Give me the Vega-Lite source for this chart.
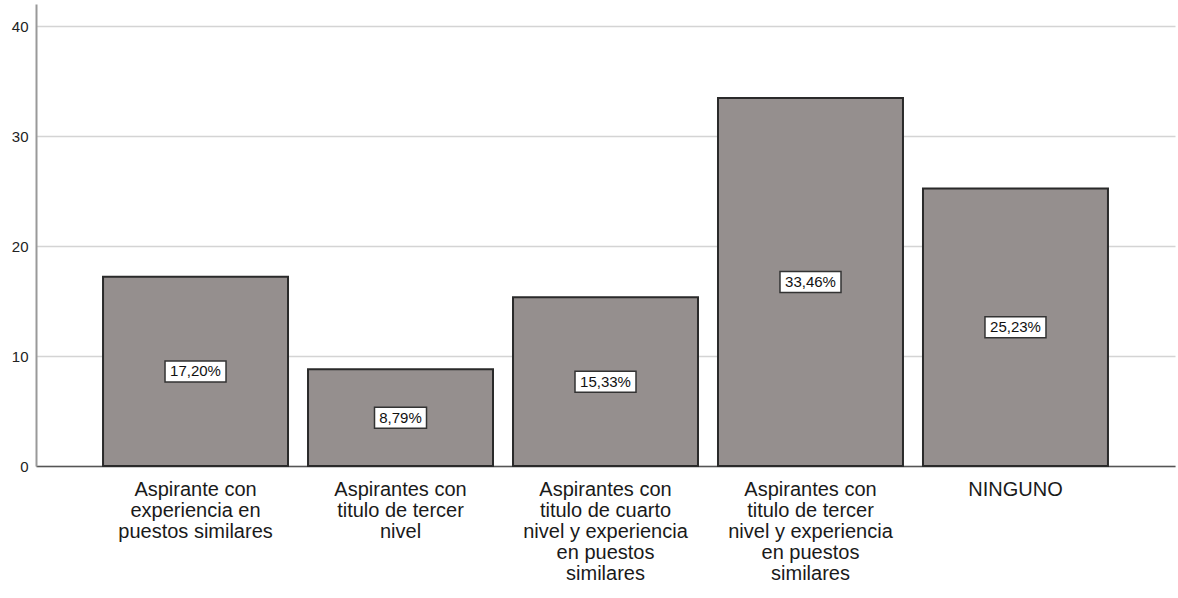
{
  "$schema": "https://vega.github.io/schema/vega-lite/v6.json",
  "width": 1139,
  "height": 462,
  "autosize": {"type": "none"},
  "padding": {"left": 36, "top": 4, "right": 3, "bottom": 132},
  "background": "white",
  "config": {
    "view": {"stroke": null},
    "font": "Liberation Sans"
  },
  "data": {
    "values": [
      {"categoria": "Aspirante con|experiencia en|puestos similares", "pct": 17.20, "etiqueta": "17,20%"},
      {"categoria": "Aspirantes con|titulo de tercer|nivel", "pct": 8.79, "etiqueta": "8,79%"},
      {"categoria": "Aspirantes con|titulo de cuarto|nivel y experiencia|en puestos|similares", "pct": 15.33, "etiqueta": "15,33%"},
      {"categoria": "Aspirantes con|titulo de tercer|nivel y experiencia|en puestos|similares", "pct": 33.46, "etiqueta": "33,46%"},
      {"categoria": "NINGUNO", "pct": 25.23, "etiqueta": "25,23%"}
    ]
  },
  "transform": [{"calculate": "datum.pct / 2", "as": "mitad"}],
  "encoding": {
    "x": {
      "field": "categoria",
      "type": "nominal",
      "sort": null,
      "scale": {"paddingInner": 0.0976, "paddingOuter": 0.327},
      "axis": {
        "title": null,
        "labelExpr": "split(datum.label, '|')",
        "labelAngle": 0,
        "labelFont": "Liberation Sans",
        "labelFontSize": 20,
        "labelLineHeight": 21,
        "labelColor": "#1a1a1a",
        "labelBaseline": "top",
        "labelPadding": 13,
        "labelLimit": 0,
        "ticks": false,
        "domainColor": "#555555",
        "domainWidth": 1.5,
        "grid": false
      }
    }
  },
  "layer": [
    {
      "mark": {"type": "bar", "fill": "#958f8e", "stroke": "#2a2a2a", "strokeWidth": 2},
      "encoding": {
        "y": {
          "field": "pct",
          "type": "quantitative",
          "scale": {"domain": [0, 42], "nice": false},
          "axis": {
            "title": null,
            "values": [0, 10, 20, 30, 40],
            "ticks": false,
            "labelPadding": 8,
            "labelFont": "Liberation Sans",
            "labelFontSize": 15,
            "labelColor": "#222222",
            "domainColor": "#999999",
            "domainWidth": 2,
            "gridColor": "#d4d4d4",
            "gridWidth": 1.5
          }
        }
      }
    },
    {
      "mark": {"type": "point", "filled": true, "fill": "white", "stroke": "#333333", "strokeWidth": 1.5, "opacity": 1},
      "encoding": {
        "y": {"field": "mitad", "type": "quantitative"},
        "shape": {
          "condition": {"test": "datum.pct < 10", "value": "M-1,-0.404L1,-0.404L1,0.404L-1,0.404Z"},
          "value": "M-1,-0.344L1,-0.344L1,0.344L-1,0.344Z"
        },
        "size": {
          "condition": {"test": "datum.pct < 10", "value": 2704},
          "value": 3721
        }
      }
    },
    {
      "mark": {"type": "text", "font": "Liberation Sans", "fontSize": 15, "color": "#111111", "baseline": "middle", "align": "center"},
      "encoding": {
        "y": {"field": "mitad", "type": "quantitative"},
        "text": {"field": "etiqueta"}
      }
    }
  ]
}
